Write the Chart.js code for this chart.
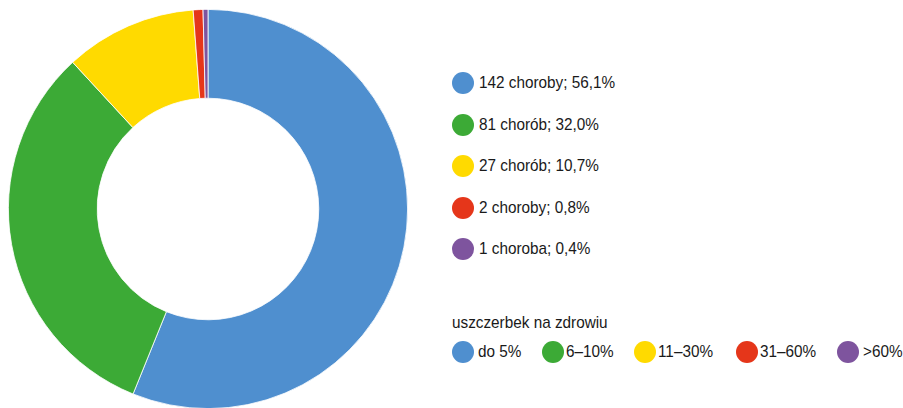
<!DOCTYPE html>
<html>
<head>
<meta charset="utf-8">
<script src="https://cdn.jsdelivr.net/npm/chart.js@4/dist/chart.umd.min.js"></script>
<style>
    html, body { margin: 0; padding: 0; background: #fff; }
    body { width: 903px; height: 408px; overflow: hidden; position: relative;
           font-family: 'Liberation Sans', Arial, sans-serif; color: #1a1a1a; }
    #chart-box { position: absolute; left: 0; top: 0; width: 416px; height: 418px; }
    .dot { position: absolute; width: 22px; height: 22px; border-radius: 50%; }
    .lbl { position: absolute; font-size: 17px; line-height: 22px; white-space: nowrap;
           transform: scaleX(0.9); transform-origin: left center; }
</style>
</head>
<body>
<div id="chart-box"><canvas id="donut"></canvas></div>
<div id="legend"></div>
<script>
// Data
const counts = [142, 81, 27, 2, 1];
const labels = ['142 choroby; 56,1%', '81 chorób; 32,0%', '27 chorób; 10,7%', '2 choroby; 0,8%', '1 choroba; 0,4%'];
const ranges = ['do 5%', '6–10%', '11–30%', '31–60%', '>60%'];
const colors = ['#4f8fcf', '#3caa36', '#ffda00', '#e5361a', '#7e549e'];
const legendTitle = 'uszczerbek na zdrowiu';

new Chart(document.getElementById('donut'), {
    type: 'doughnut',
    data: {
        labels: labels,
        datasets: [{
            data: counts,
            backgroundColor: colors,
            borderColor: '#ffffff',
            borderWidth: 0.8
        }]
    },
    options: {
        responsive: true,
        maintainAspectRatio: false,
        animation: false,
        cutout: '55.5%',
        layout: { padding: 8 },
        plugins: { legend: { display: false }, tooltip: { enabled: false } }
    }
});

// --- Legend (HTML) ---
const legend = document.getElementById('legend');
function addItem(color, text, dotX, textX, cy) {
    const d = document.createElement('div');
    d.className = 'dot';
    d.style.background = color;
    d.style.left = (dotX - 11) + 'px';
    d.style.top = (cy - 11) + 'px';
    legend.appendChild(d);
    const t = document.createElement('div');
    t.className = 'lbl';
    t.textContent = text;
    t.style.left = textX + 'px';
    t.style.top = (cy - 11) + 'px';
    legend.appendChild(t);
}

const rowY = [83, 125, 166, 208, 249];
labels.forEach((l, i) => addItem(colors[i], l, 463, 479, rowY[i]));

const title = document.createElement('div');
title.className = 'lbl';
title.textContent = legendTitle;
title.style.left = '452px';
title.style.top = (323 - 11) + 'px';
legend.appendChild(title);

const dotXs = [463, 553, 645, 747, 848];
const textXs = [478, 566, 658, 760, 863];
ranges.forEach((r, i) => addItem(colors[i], r, dotXs[i], textXs[i], 352));
</script>
</body>
</html>
